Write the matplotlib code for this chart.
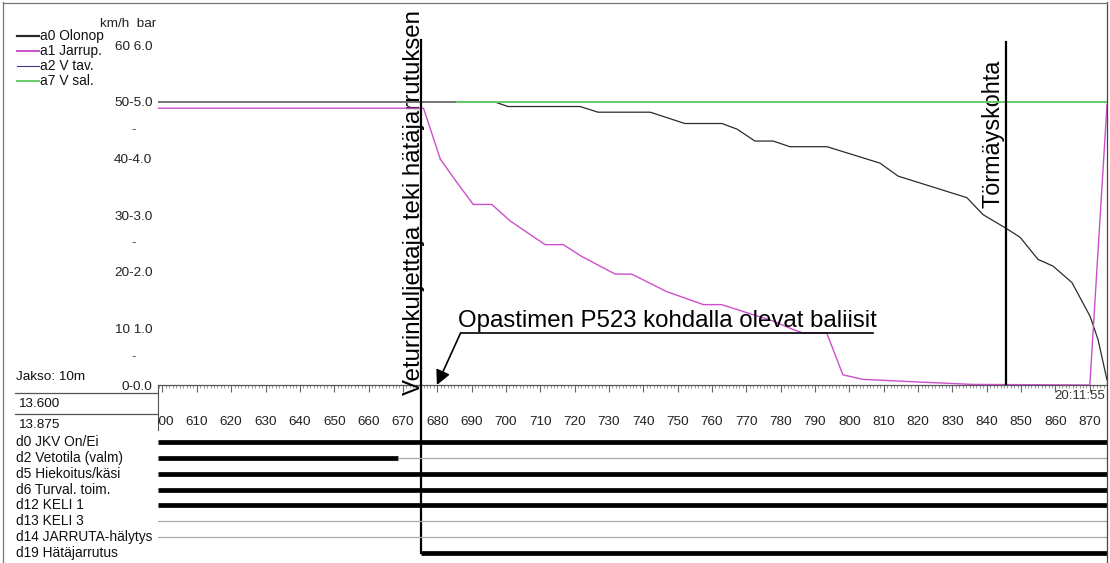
import numpy as np
import matplotlib.pyplot as plt
from matplotlib.lines import Line2D
from matplotlib.ticker import MultipleLocator

plt.rcParams['font.family'] = ['Liberation Sans', 'DejaVu Sans']

# analog channels (x = matka, y = km/h, jarrupaine bar)
olonop_x = [598.7, 696.8, 700.6, 721.6, 726.8, 742.0, 752.1, 762.9, 767.3, 772.5,
            777.8, 782.7, 793.5, 808.9, 814.2, 834.2, 838.9, 845.3, 849.7, 854.9,
            859.3, 864.8, 870.1, 872.4, 875.0]
olonop_y = [50.0, 50.0, 49.2, 49.2, 48.2, 48.2, 46.2, 46.2, 45.2, 43.1,
            43.1, 42.1, 42.1, 39.2, 36.9, 33.1, 30.1, 27.8, 26.1, 22.2,
            21.0, 18.1, 12.1, 8.0, 0.9]
jarrup_x = [598.7, 676.0, 680.9, 685.7, 690.5, 695.9, 701.2, 711.4, 716.7, 722.1,
            731.8, 736.6, 746.8, 757.5, 762.8, 777.8, 783.6, 786.5, 793.4, 798.1,
            803.9, 817.6, 836.0, 870.0, 875.0]
jarrup_bar = [4.89, 4.89, 3.99, 3.58, 3.19, 3.19, 2.90, 2.48, 2.48, 2.27,
              1.96, 1.96, 1.65, 1.42, 1.42, 1.13, 0.98, 0.92, 0.92, 0.18,
              0.10, 0.06, 0.01, 0.0, 4.95]
vsal_x = [685.7, 875.0]
vsal_y = [50.0, 50.0]

legend_labels = ["a0 Olonop", "a1 Jarrup.", "a2 V tav.", "a7 V sal."]
ytick_vals = [0, 10, 20, 30, 40, 50, 60]
ytick_labels = ["0-0.0", "10 1.0", "20-2.0", "30-3.0", "40-4.0", "50-5.0", "60 6.0"]
ymid_vals = [5, 25, 45]
xtick_vals = list(range(600, 871, 10))

# digital channels: (alku, loppu, tila)
digital_labels = ["d0 JKV On/Ei", "d2 Vetotila (valm)", "d5 Hiekoitus/käsi",
                  "d6 Turval. toim.", "d12 KELI 1", "d13 KELI 3",
                  "d14 JARRUTA-hälytys", "d19 Hätäjarrutus"]
digital_segments = [
    [(598.7, 875.0, 1)],
    [(598.7, 668.5, 1), (668.5, 875.0, 0)],
    [(598.7, 875.0, 1)],
    [(598.7, 875.0, 1)],
    [(598.7, 875.0, 1)],
    [(598.7, 875.0, 0)],
    [(598.7, 875.0, 0)],
    [(675.4, 875.0, 1)],
]

hataj_x = 675.4
torm_x = 845.6
baliisi_x = 679.9

c_black = "#2b2b2b"
c_mag = "#cc4fcc"
c_green = "#66cc66"
c_navy = "#3a3a8a"

W, H = 1110, 563
fig = plt.figure(figsize=(W / 100, H / 100), dpi=100)


def box(x0, y0, x1, y1):
    return [x0 / W, 1 - y1 / H, (x1 - x0) / W, (y1 - y0) / H]


def fx(px):
    return px / W


def fy(py):
    return 1 - py / H


kmh_px = 5.66
ax = fig.add_axes(box(158, 2, 1107, 385))
ax.set_xlim(598.7, 875.0)
ax.set_ylim(0, 383 / kmh_px)
for s in ["left", "top", "right"]:
    ax.spines[s].set_visible(False)
ax.spines["bottom"].set_color("#555555")
ax.spines["bottom"].set_linewidth(0.9)

ax.plot(olonop_x, olonop_y, color=c_black, lw=0.9, zorder=3)
ax.plot(vsal_x, vsal_y, color=c_green, lw=1.4, zorder=4)
ax.plot(jarrup_x, np.array(jarrup_bar) * 10, color=c_mag, lw=1.0, zorder=5)

ax.set_yticks(ytick_vals)
ax.set_yticklabels(ytick_labels)
ax.tick_params(axis="y", length=0, pad=4, labelsize=9.7, colors="#222222")
for v in ymid_vals:
    ax.text(-0.026, v, "-", transform=ax.get_yaxis_transform(), ha="center",
            va="center", fontsize=9.7, color="#444444")

ax.xaxis.set_major_locator(MultipleLocator(10))
ax.xaxis.set_minor_locator(MultipleLocator(1))
ax.tick_params(axis="x", which="major", length=5, width=0.8, color="#666666",
               labelbottom=False)
ax.tick_params(axis="x", which="minor", length=2.5, width=0.6, color="#888888")

# tick label box
axb = fig.add_axes(box(158, 385, 1107, 430))
axb.set_xlim(598.7, 875.0)
axb.set_ylim(0, 1)
axb.set_xticks([])
axb.set_yticks([])
for s in ["top", "right", "bottom"]:
    axb.spines[s].set_visible(False)
axb.spines["left"].set_color("#555555")
axb.patch.set_alpha(0)
for v in xtick_vals:
    axb.text(v, 0.185, str(v), ha="center", va="center", fontsize=9.7,
             color="#222222", clip_on=True)

# digital rows
axd = fig.add_axes(box(158, 430, 1107, 563))
axd.set_xlim(598.7, 875.0)
axd.set_ylim(563, 430)
axd.set_axis_off()
row_y = 442.3 + np.arange(len(digital_labels)) * 15.77
for yy, lab, segs in zip(row_y, digital_labels, digital_segments):
    fig.text(fx(16), fy(yy), lab, ha="left", va="center", fontsize=9.9,
             color="#111111")
    for x0, x1, st in segs:
        if st:
            axd.plot([x0, x1], [yy, yy], color="black", lw=3.4,
                     solid_capstyle="butt")
        else:
            axd.plot([x0, x1], [yy, yy], color="#a8a8a8", lw=0.9)

# event lines
ax.plot([hataj_x, hataj_x], [(385 - 40) / kmh_px, -(553 - 385) / kmh_px],
        color="black", lw=1.6, clip_on=False, zorder=6)
ax.plot([torm_x, torm_x], [(385 - 42) / kmh_px, 0], color="black", lw=1.6,
        zorder=6)
ax.text(676.3, -10 / kmh_px, "Veturinkuljettaja teki hätäjarrutuksen",
        rotation=90, ha="right", va="bottom", fontsize=17.3, color="black",
        clip_on=False)
ax.text(845.3, (385 - 208) / kmh_px, "Törmäyskohta", rotation=90, ha="right",
        va="bottom", fontsize=16.8, color="black")

# baliisi annotation
ax.text(685.9, (385 - 327) / kmh_px, "Opastimen P523 kohdalla olevat baliisit",
        ha="left", va="baseline", fontsize=17.3, color="black", zorder=7)
ax.plot([686.8, 806.9], [(385 - 333) / kmh_px] * 2, color="black", lw=1.2,
        zorder=7)
ax.annotate("", xy=(baliisi_x, 0), xytext=(686.8, (385 - 333) / kmh_px),
            arrowprops=dict(arrowstyle="-|>", color="black", lw=1.2,
                            mutation_scale=22, shrinkA=0, shrinkB=0),
            annotation_clip=False, zorder=7)

# left header and legend
fig.text(fx(100), fy(24), "km/h  bar", ha="left", va="center", fontsize=9.7,
         color="#222222")
leg_colors = [c_black, c_mag, c_navy, c_green]
leg_lw = [1.6, 1.4, 0.8, 1.4]
for i, (lab, col, lw) in enumerate(zip(legend_labels, leg_colors, leg_lw)):
    yy = 36 + i * 15
    fig.add_artist(Line2D([fx(17), fx(39)], [fy(yy), fy(yy)], color=col, lw=lw))
    fig.text(fx(40), fy(yy), lab, ha="left", va="center", fontsize=9.9,
             color="#111111")

fig.text(fx(16), fy(377), "Jakso: 10m", ha="left", va="center", fontsize=9.7,
         color="#111111")
fig.add_artist(Line2D([fx(15), fx(158)], [fy(393), fy(393)], color="#555555", lw=0.9))
fig.add_artist(Line2D([fx(15), fx(158)], [fy(414), fy(414)], color="#555555", lw=0.9))
fig.text(fx(18), fy(404), "13.600", ha="left", va="center", fontsize=9.7,
         color="#111111")
fig.text(fx(18), fy(425), "13.875", ha="left", va="center", fontsize=9.7,
         color="#111111")
fig.text(fx(1054), fy(396), "20:11:55", ha="left", va="center", fontsize=9.5,
         color="#333333")

# right border and frame
fig.add_artist(Line2D([fx(1107), fx(1107)], [fy(2), fy(563)], color="#444444", lw=0.9))
fig.add_artist(Line2D([fx(3), fx(3)], [fy(2), fy(563)], color="#777777", lw=0.9))
fig.add_artist(Line2D([fx(3), fx(1107)], [fy(3), fy(3)], color="#777777", lw=0.9))

fig.savefig("out.png", dpi=100, facecolor="white")
